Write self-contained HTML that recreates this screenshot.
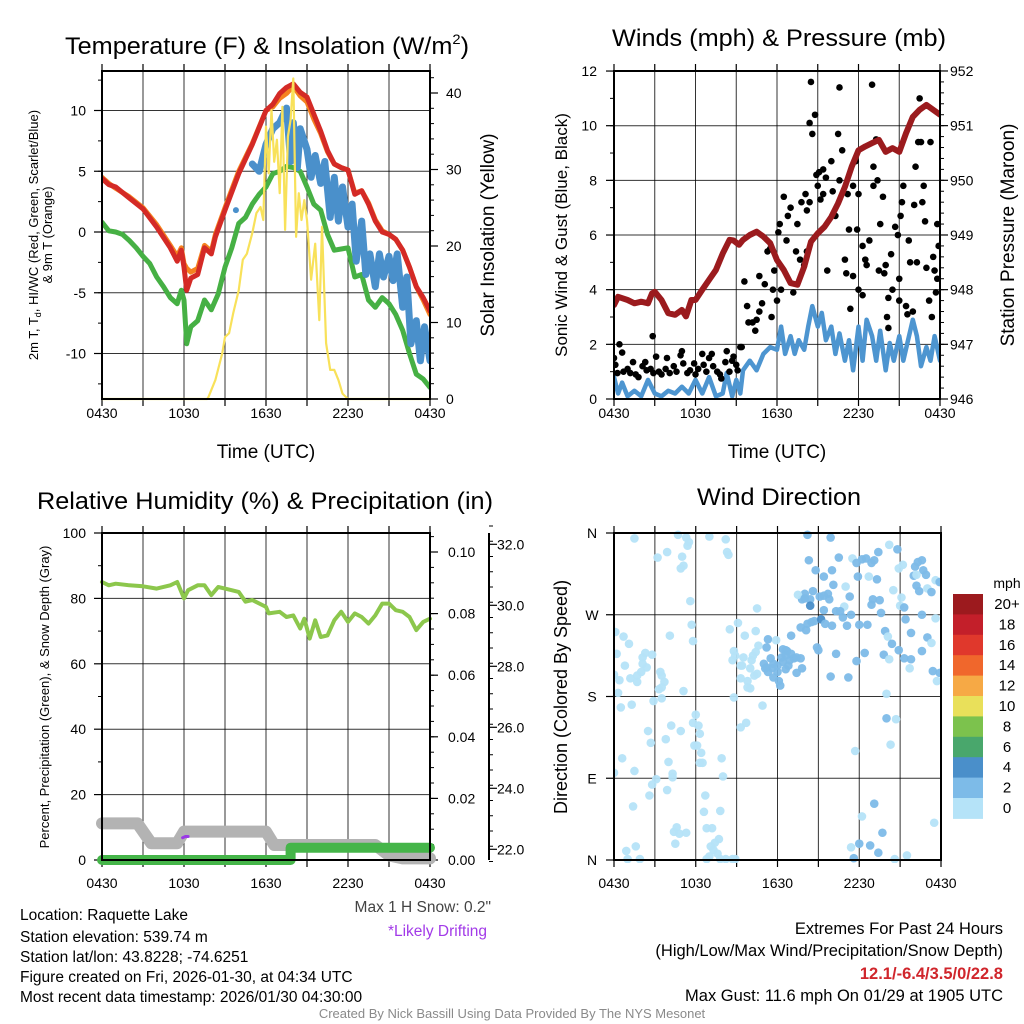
<!DOCTYPE html>
<html><head><meta charset="utf-8"><title>Raquette Lake Meteogram</title>
<style>
html,body{margin:0;padding:0;background:#fff;}
svg{display:block;font-family:"Liberation Sans",Arial,sans-serif;}
</style></head>
<body>
<svg id="chart" width="1024" height="1024" viewBox="0 0 1024 1024" xmlns="http://www.w3.org/2000/svg">
<rect x="0" y="0" width="1024" height="1024" fill="#fff"/>
<text x="267" y="54" font-size="24" text-anchor="middle" textLength="404" lengthAdjust="spacingAndGlyphs">Temperature (F) &amp; Insolation (W/m<tspan font-size="14" dy="-10">2</tspan><tspan dy="10">)</tspan></text>
<text x="779" y="46" font-size="24" text-anchor="middle" textLength="334" lengthAdjust="spacingAndGlyphs">Winds (mph) &amp; Pressure (mb)</text>
<text x="265" y="509" font-size="24" text-anchor="middle" textLength="456" lengthAdjust="spacingAndGlyphs">Relative Humidity (%) &amp; Precipitation (in)</text>
<text x="779" y="505" font-size="24" text-anchor="middle" textLength="164" lengthAdjust="spacingAndGlyphs">Wind Direction</text>

<text x="266" y="458" font-size="19" text-anchor="middle">Time (UTC)</text>
<text x="777" y="458" font-size="19" text-anchor="middle">Time (UTC)</text>

<text transform="translate(38,235) rotate(-90)" font-size="13" text-anchor="middle">2m T, T<tspan font-size="9" dy="3">d</tspan><tspan dy="-3">, HI/WC (Red, Green, Scarlet/Blue)</tspan></text>
<text transform="translate(52,235) rotate(-90)" font-size="13" text-anchor="middle">&amp; 9m T (Orange)</text>
<text transform="translate(494,235) rotate(-90)" font-size="19" text-anchor="middle">Solar Insolation (Yellow)</text>
<text transform="translate(567,235) rotate(-90)" font-size="17" text-anchor="middle">Sonic Wind &amp; Gust (Blue, Black)</text>
<text transform="translate(1014,235) rotate(-90)" font-size="19" text-anchor="middle">Station Pressure (Maroon)</text>
<text transform="translate(49,697) rotate(-90)" font-size="13" text-anchor="middle">Percent, Precipitation (Green), &amp; Snow Depth (Gray)</text>
<text transform="translate(567,697) rotate(-90)" font-size="18" text-anchor="middle">Direction (Colored By Speed)</text>

<g font-size="15.5">
<text x="20" y="920">Location: Raquette Lake</text>
<text x="20" y="942">Station elevation: 539.74 m</text>
<text x="20" y="962">Station lat/lon: 43.8228; -74.6251</text>
<text x="20" y="982">Figure created on Fri, 2026-01-30, at 04:34 UTC</text>
<text x="20" y="1002">Most recent data timestamp: 2026/01/30 04:30:00</text>
</g>
<text x="491" y="912" font-size="15.5" text-anchor="end" fill="#444">Max 1 H Snow: 0.2"</text>
<text x="487" y="936" font-size="15.5" text-anchor="end" fill="#a23ae8">*Likely Drifting</text>
<g font-size="16.5" text-anchor="end">
<text x="1003" y="934">Extremes For Past 24 Hours</text>
<text x="1003" y="956">(High/Low/Max Wind/Precipitation/Snow Depth)</text>
<text x="1003" y="979" fill="#d0262c" font-weight="bold">12.1/-6.4/3.5/0/22.8</text>
<text x="1003" y="1001">Max Gust: 11.6 mph On 01/29 at 1905 UTC</text>
</g>
<text x="512" y="1018" font-size="13" text-anchor="middle" fill="#8a8a8a">Created By Nick Bassill Using Data Provided By The NYS Mesonet</text>
</svg>
<script>
// ---------- Data ----------
const timeTickLabels = ['0430','1030','1630','2230','0430'];
// Temperature panel (hours since 0430 UTC)
const tempHours = [0,0.5,1,2,3,4,5,5.5,5.8,6,6.2,6.5,7,7.5,8,8.3,9,10,11,12,12.5,13,13.5,14,14.5,15,15.5,16,16.5,17,17.5,18,18.5,19,19.5,20,20.5,21,21.5,22,22.5,23,23.5,24];
const tempRed = [4.4,3.9,3.7,2.8,1.9,0.4,-1.3,-2.4,-1.5,-2.9,-4.8,-3.8,-3.5,-1.3,-1.8,-0.4,1.8,4.8,7.2,10,10.5,11.4,11.9,12.2,11.5,11.1,9.7,8.3,6.7,5.6,5.3,5.1,3.1,3.4,2.3,0.9,0,-0.2,-0.6,-1.5,-2.9,-4.5,-5.4,-6.5];
const temp9mOrange = [4.5,4.0,3.6,2.9,2.0,0.6,-1.1,-2.0,-1.3,-2.6,-3.0,-3.3,-3.0,-1.1,-1.6,-0.2,2.0,5.0,7.3,10,10.3,11.0,11.4,12.0,11.2,10.7,9.3,8.1,6.6,5.6,5.3,5.1,3.2,3.4,2.4,1.0,0.1,-0.2,-0.6,-1.5,-2.9,-4.5,-5.6,-6.8];
const dewHours = [0,0.5,1,1.5,2,2.5,3,3.5,4,4.5,5,5.5,5.8,6,6.2,6.5,7,7.5,8,8.5,9,9.5,10,10.5,11,11.5,12,12.5,13,13.5,14,14.5,15,15.5,16,16.5,17,17.5,18,18.5,19,19.5,20,20.5,21,21.5,22,22.5,23,23.5,24];
const dewGreen = [0.8,0.1,0,-0.2,-0.7,-1.3,-2,-2.6,-3.7,-4.5,-5.4,-5.9,-4.8,-5.6,-9.2,-7.8,-7.3,-5.6,-6.4,-5.1,-2.9,-1.3,0.7,1.2,2.3,3.1,3.7,4.8,5,5.4,5.3,5,3.7,2.3,1.8,-0.2,-1.5,-1.4,-1.3,-3.7,-3.5,-5.6,-6.2,-5.4,-5.9,-6.8,-8.1,-10,-11.7,-12.1,-12.8];
const wcHours = [11,11.5,12,12.5,13,13.5,13.8,14,14.3,14.5,15,15.3,15.6,16,16.3,16.7,17,17.3,17.6,18,18.3,18.6,19,19.3,19.6,20,20.3,20.6,21,21.3,21.6,22,22.3,22.6,23,23.3,23.6,24];
const wcBlue = [5.6,5,7.2,8.5,9,10.2,5.8,9,5.3,8.5,6.8,4.5,6.3,4,5.8,1.2,4.5,0.9,3.7,0.4,2.3,-2.4,0.9,-3.5,-1.8,-4.5,-1.8,-3.7,-2,-4,-1.8,-6.2,-3.7,-9.2,-7.3,-10.6,-7.8,-10.6];
const wcIsolated = [[9.8,1.8]];
const solarHours = [0,7.7,7.8,8.3,8.8,9,9.3,9.6,10,10.3,10.6,11,11.3,11.6,11.8,12,12.2,12.4,12.6,12.8,13,13.2,13.4,13.6,13.8,14,14.2,14.4,14.6,14.8,15,15.3,15.6,15.9,16.1,16.4,16.7,17,17.3,17.6,18,24];
const solarYellow = [0,0,0.3,2.5,6,8.1,8.6,11.2,14.2,18.2,19,21.7,24.3,25.1,23.4,35.6,29.5,37.8,31,33.9,26.9,38.2,22.1,34.3,36.5,41.9,21.2,26.9,23.4,26,23.4,15.6,20.3,10.3,22.5,7.3,3.8,3.8,2.5,0.7,0,0];
// Winds panel
const presHours = [0,0.3,1,1.5,2,2.5,2.8,3,3.5,4,4.5,5,5.3,5.7,6,6.5,7,7.5,8,8.5,8.8,9.2,9.5,10,10.5,11,11.5,12,12.5,13,13.5,14,14.5,15,15.5,16,16.5,17,17.5,18,18.5,19,19.5,20,20.5,21,21.5,22,22.5,23,23.5,24];
const pressure = [947.72,947.87,947.81,947.75,947.78,947.75,947.93,947.96,947.81,947.57,947.54,947.63,947.51,947.81,947.81,948.0,948.18,948.36,948.66,948.91,948.9,948.82,948.91,949.0,949.06,948.97,948.85,948.54,948.36,948.12,948.09,948.42,948.88,949.03,949.15,949.33,949.58,949.88,950.25,950.55,950.62,950.68,950.74,950.52,950.59,950.52,950.86,951.16,951.29,951.38,951.29,951.2];
const windHours = [0,0.3,0.6,1,1.5,2,2.5,3,3.5,4,4.5,5,5.5,6,6.5,7,7.5,8,8.3,8.7,9,9.3,9.5,10,10.5,11,11.5,12,12.3,12.6,13,13.3,13.6,14,14.3,14.6,15,15.3,15.6,16,16.3,16.6,17,17.3,17.6,18,18.3,18.6,19,19.3,19.6,20,20.3,20.6,21,21.3,21.6,22,22.3,22.6,23,23.3,23.6,24];
const sonicWind = [0.8,0.2,0.6,0.1,0.3,0.1,0.7,0.2,0.1,0.3,0.2,0.45,0.2,0.7,0.2,0.8,0.1,0.2,0.95,0.1,0.7,0.2,1.05,1.4,1.05,1.65,1.9,1.8,2.65,1.65,2.3,1.65,2.15,1.8,2.65,3.4,2.65,3.15,2.15,2.65,1.65,2.4,1.4,2.15,1.05,2.65,1.4,2.9,2.3,1.4,2.5,1.05,2.05,1.4,2.3,1.4,2.05,2.9,2.3,1.2,1.9,1.4,2.3,1.4];
const gusts = [[0,1.5],[0.1,1.25],[0.25,0.95],[0.4,2.0],[0.6,1.7],[0.7,1.0],[1.0,1.1],[1.2,0.95],[1.4,1.35],[1.6,0.9],[1.8,0.8],[2.1,1.2],[2.3,1.35],[2.4,1.05],[2.7,1.1],[2.85,2.3],[2.9,0.95],[3.1,1.55],[3.3,1.0],[3.5,0.9],[3.8,1.1],[3.9,1.5],[4.1,0.95],[4.4,1.2],[4.6,1.0],[4.9,1.6],[5.0,1.75],[5.1,1.3],[5.4,0.95],[5.6,1.05],[5.9,1.3],[6.0,0.9],[6.2,1.1],[6.5,1.65],[6.6,1.25],[6.8,1.0],[7.0,1.5],[7.2,1.65],[7.3,1.2],[7.6,1.0],[7.8,0.9],[7.9,0.75],[8.2,1.35],[8.3,1.75],[8.5,1.0],[8.7,1.4],[8.8,1.55],[9.0,1.25],[9.1,1.05],[9.3,1.9],
[9.4,1.9],[9.6,4.3],[9.8,3.4],[9.9,2.8],[10.2,2.8],[10.4,2.5],[10.5,2.9],[10.7,4.5],[10.9,3.5],[10.7,3.2],[11.1,4.2],[11.3,5.4],[11.5,5.5],[11.6,3.0],[11.7,4.0],[11.8,4.7],[12,3.6],[12.1,6.1],[12.2,6.4],[12.3,4.0],[12.5,7.4],[12.7,5.8],[12.8,6.7],[13.0,7.0],[13.2,3.9],[13.4,5.4],[13.5,6.4],[13.7,5.1],[13.8,7.2],[14.0,4.9],[14.1,7.5],[14.2,5.4],[14.2,6.9],[14.4,7.2],[14.4,10.1],[14.5,11.6],[14.6,9.7],[14.8,10.4],[14.9,8.2],[15.0,7.8],[15.1,8.3],[15.2,7.3],[15.4,7.5],[15.4,8.4],[15.6,8.1],[15.7,4.7],[16,8.7],[16.1,7.6],[16.3,6.7],[16.5,9.7],[16.6,11.4],[16.6,8.0],[16.8,9.1],[17.0,5.1],[17.1,4.6],[17.2,7.5],[17.3,6.2],[17.4,3.3],[17.6,4.5],[17.6,7.8],[17.8,8.7],[17.9,6.2],[18.0,7.5],[18.0,4.0],[18.3,3.8],[18.3,5.6],[18.5,5.1],[18.6,4.9],[18.8,5.8],[19,11.5],[19.1,7.8],[19.1,8.5],[19.3,9.5],[19.4,8.0],[19.5,4.7],[19.6,6.4],[19.8,7.4],[19.9,4.6],[20,4.9],[20.1,3.0],[20.2,2.6],[20.4,5.3],[20.2,3.7],[20.5,4.0],[20.7,6.3],[20.9,6.0],[21.0,4.4],[21.0,3.6],[21.1,6.7],[21.2,7.2],[21.3,7.8],[21.5,3.4],[21.6,3.1],[21.7,5.8],[21.8,5.0],[22,3.2],[22.1,7.1],[22.2,8.5],[22.3,5.0],[22.4,9.4],[22.5,11.0],[22.6,9.4],[22.7,7.2],[22.8,7.8],[22.9,6.5],[23.0,4.8],[23.2,3.6],[23.3,9.4],[23.4,3.0],[23.5,5.2],[23.6,4.7],[23.7,3.9],[23.8,4.4],[23.8,6.4],[23.9,5.6]];
// Humidity panel
const rhHours = [0,0.5,1,2,3,4,5,5.5,6,6.3,7,7.5,8,8.5,9,10,10.5,11,12,12.2,13,13.5,14,14.5,14.8,15.2,15.6,16,16.5,17,17.5,18,18.5,19,19.5,20,20.5,21,21.5,22,22.5,23,23.5,24];
const rhValues = [85,84,84.5,84,83.7,83,84,85,80,82.5,84,84,81,83.5,83,82,79,79.5,77.4,75.4,75.9,74.3,74.8,70.8,73.8,67.7,73.3,68.2,68.7,73.3,75.9,72.8,75.4,74.3,72.3,74.8,78.4,78.4,76.4,75.9,74.3,70.3,72.8,73.8];
const snowHours = [0,2.6,3.6,5.5,6,12,12.6,20,21,22,24];
const snowDepth = [22.85,22.85,22.2,22.2,22.58,22.58,22.14,22.14,21.8,21.7,21.7];
const precipHours = [0,13.8,13.8,24];
const precipValues = [0,0,0.004,0.004];
const driftHours = [5.9,6.1,6.3];
const driftDepth = [22.38,22.42,22.42];
// Wind direction panel: [hour, degrees, speed mph]
const windDirObs = [
[1.5,354,1],[3.2,333,1],[3.9,339,1],[4.7,358,1],[5.3,355,1],[5.5,350,1],[5.4,346,1],[5.0,334,1],[5.1,324,1],[4.9,321,1],[7.0,356,1],[8.2,353,1],[8.3,339,1],[8.4,336,1],[5.6,285,1],[10.5,277,1],
[0.1,251,1],[0.7,246,1],[1.1,238,1],[0.2,227,1],[2.3,228,1],[2.1,223,1],[2.8,226,1],[0.8,214,1],[2.1,216,1],[2.4,212,1],[2.0,207,1],[1.7,203,1],[0,204,1],[0.4,198,1],[1.2,200,1],[1.7,196,1],[3.4,207,1],[3.5,203,1],[3.7,196,1],[3.5,190,1],[3.3,188,1],[5.1,186,1],[0.3,184,1],[4.1,247,1],[5.7,259,1],[5.8,241,1],[2.9,175,1],[3.5,178,1],[0.5,168,1],[1.3,171,1],
[8.8,179,1],[8.5,254,1],[9.1,261,1],[9.6,247,1],[10.4,252,1],[10.6,236,1],[8.8,230,1],[8.7,220,1],[8.9,225,1],[9.3,214,1],[9.5,223,1],[10,211,1],[10.2,225,1],[10.1,220,1],[10.4,229,1],[9.3,200,1],[9.8,197,1],[10,189,1],[9.8,190,1],[10.9,170,1],[10.3,203,1],[10.5,205,1],
[6.0,160,1],[5.8,151,1],[6.2,148,1],[6.3,139,1],[4.9,142,1],[4.2,148,1],[2.5,142,1],[2.7,129,1],[3.8,133,1],[5.9,126,1],[6.1,126,1],[6.4,118,1],[6.3,107,1],[6.5,107,1],[4.0,108,1],[4.3,95,1],[4.3,91,1],[7.9,112,1],[8.0,92,1],[0.6,112,1],[1.5,98,1],[0,96,1],[3.1,89,1],[2.8,83,1],[2.6,71,1],[3.9,77,1],[6.7,71,1],[6.6,53,1],[7.8,54,1],[1.4,59,1],
[4.6,36,1],[4.4,31,1],[4.8,29,1],[5.3,30,1],[4.5,18,1],[6.8,35,1],[7.2,35,1],[7.7,23,1],[7.4,19,1],[7.1,15,1],[7.3,11,1],[7.6,7,1],[7.0,4,1],[6.8,1,1],[7.8,1,1],[8.2,1,1],[8.7,1,1],[8.9,1,1],[1.6,15,1],[0.9,10,1],[1.0,1,1],[1.9,1,1],[9.3,146,1],[9.7,151,1],[9.4,214,1],
[11.2,234,3],[11.3,243,3],[11.9,242,1],[11.0,216,3],[11.2,212,3],[11.5,222,3],[11.6,211,3],[11.7,216,3],[11.3,207,3],[11.1,211,3],[12.0,207,3],[11.7,201,3],[12.1,197,3],[12.2,192,3],[12.0,214,3],[12.3,223,3],[12.4,232,3],[12.6,231,3],[12.7,230,3],[12.6,225,3],[12.4,218,3],[12.6,210,3],[12.8,214,3],[12.9,220,3],[13.0,227,3],[13.2,222,3],[13.4,223,3],[13.7,222,3],[13.8,211,3],[13.4,206,3],
[13.0,247,3],[13.7,256,3],[14.1,253,3],[14.2,260,3],[14.5,262,3],[14.7,263,3],[14.9,234,3],[15.0,231,3],[15.2,265,5],[15.5,260,3],[16.0,258,3],[16.3,227,3],[15.9,202,3],[17.2,201,3],[17.8,219,3],[17.1,258,3],[18.0,259,3],[18.6,259,3],[18.4,228,3],[19.8,226,3],[20.2,221,1],[19.9,252,3],[20.1,246,1],[20.4,238,3],[20.9,231,3],[21.3,222,3],[21.8,221,3],[21.7,211,1],[21.8,250,3],[22.6,230,3],[23.0,245,3],[23.3,239,1],[23.4,208,3],[23.9,206,3],[23.7,197,1],[23.6,266,1],[21.4,265,3],[22.6,270,3],
[14.2,358,3],[15.9,355,3],[14.3,330,3],[14.8,319,3],[15.4,312,3],[16.0,319,3],[16.5,333,3],[16.1,303,3],[17.0,301,1],[17.5,332,1],[17.8,327,3],[17.9,312,3],[18.2,331,3],[18.5,332,3],[18.9,327,3],[19.1,330,3],[18.7,312,1],[19.3,309,3],[19.4,339,3],[20.2,347,1],[20.8,342,3],[20.9,321,1],[21.2,325,1],[22.1,323,3],[22.3,328,3],[22.6,330,3],[22.7,319,3],[22.9,314,3],[22.0,313,3],[22.2,314,1],[23.6,308,1],[23.9,306,3],[22.2,302,3],[22.4,296,3],[23.0,299,1],[23.3,295,3],
[20.5,297,1],[21.1,289,1],[21.0,280,1],[21.3,278,3],[19.0,287,3],[18.9,281,3],[19.5,286,3],[19.6,272,3],[17.3,290,3],[16.9,279,1],[16.3,274,3],[16.6,274,3],[16.8,267,3],[17.4,270,3],[15.4,275,3],[15.1,290,3],[15.4,291,3],[15.7,293,3],[15.8,287,3],[14.6,296,3],[14.0,293,3],[13.8,287,3],[14.4,287,3],[14.4,280,5],[13.5,292,1],[14.0,288,3],
[20.0,183,1],[20.0,156,3],[20.7,155,1],[20.3,127,1],[17.7,120,1],[19.1,62,3],[18.2,48,1],[19.7,30,3],[18.0,18,3],[17.4,14,1],[18.8,16,3],[19.4,8,3],[17.6,2,3],[20.6,1,1],[21.5,5,1],[23.5,41,1]];
const speedLevels = ['0','2','4','6','8','10','12','14','16','18','20+'];
const speedColors = ['#b5e3f8','#7dbbe8','#4a8fca','#49a76c','#7cc24d','#e9e05a','#f6a945','#f0672c','#e0382c','#c31f2a','#9c1a1e'];

// ---------- Rendering ----------
const svg = document.getElementById('chart');
const NS = 'http://www.w3.org/2000/svg';
function mk(tag, a, parent){ const e=document.createElementNS(NS,tag); for(const k in a) e.setAttribute(k,a[k]); (parent||svg).appendChild(e); return e; }
function txt(s,x,y,size,anchor,fill,parent){ const e=mk('text',{x:x,y:y,'font-size':size,'text-anchor':anchor||'middle',fill:fill||'#000'},parent); e.textContent=s; return e; }

const P1={x0:102,x1:430,yT:71,yB:399,lab:19};
const P2={x0:614,x1:940,yT:71,yB:399,lab:19};
const P3={x0:102,x1:430,yT:533,yB:860,lab:28};
const P4={x0:614,x1:941,yT:533,yB:860,lab:28};
function xs(p,h){ return p.x0 + h/24*(p.x1-p.x0); }
const y1L=v=>232 - v*12.15;
const y1R=v=>399 - v*7.65;
const y2L=v=>399 - v*27.33;
const y2R=v=>399 - (v-946)*54.67;
const y3L=v=>860 - v*3.27;
const y3P=v=>860 - v*3080;
const y3S=v=>849.3 - (v-22)*30.5;
const y4D=v=>860 - v*(327/360);

function timeGrid(p, g, name){
  for(let h=3; h<24; h+=3){
    const l=mk('line',{x1:xs(p,h),x2:xs(p,h),y1:p.yT,y2:p.yB,stroke:'#000','stroke-width':1,'stroke-opacity':0.8},g);
    
    
  }
  for(let h=0; h<=24; h+=3){
    const tb=mk('line',{x1:xs(p,h),x2:xs(p,h),y1:p.yB,y2:p.yB+7,stroke:'#000','stroke-width':1.2},g);
    
    
    const tt=mk('line',{x1:xs(p,h),x2:xs(p,h),y1:p.yT,y2:p.yT-7,stroke:'#000','stroke-width':1.2},g);
    
    
  }
  timeTickLabels.forEach((s,i)=>{
    const t=txt(s, xs(p,i*6), p.yB+p.lab, 14, 'middle', '#000', g);
    
    
  });
}
function hgrid(p, vals, f, g, name){
  vals.forEach(v=>{
    const l=mk('line',{x1:p.x0,x2:p.x1,y1:f(v),y2:f(v),stroke:'#000','stroke-width':1,'stroke-opacity':0.8},g);
    
    
  });
}
function yTicks(x, dir, majors, minors, f, labels, labelX, anchor, g, name, fs){
  minors.forEach(v=>{
    const l=mk('line',{x1:x,x2:x+dir*4,y1:f(v),y2:f(v),stroke:'#000','stroke-width':1},g);
    
    
  });
  majors.forEach((v,i)=>{
    const l=mk('line',{x1:x,x2:x+dir*8,y1:f(v),y2:f(v),stroke:'#000','stroke-width':1.2},g);
    
    
    const t=txt(labels[i], labelX, f(v)+5, fs||14, anchor, '#000', g);
    
    
  });
}
function range(a,b,s){ const r=[]; for(let v=a; v<=b+1e-9; v+=s) r.push(+v.toFixed(4)); return r; }
function frame(p,g,name){
  const r=mk('rect',{x:p.x0,y:p.yT,width:p.x1-p.x0,height:p.yB-p.yT,fill:'none',stroke:'#000','stroke-width':2},g);
  
  
}
function poly(p, hours, vals, f, color, w, g, name){
  const pts=hours.map((h,i)=>xs(p,h).toFixed(1)+','+f(vals[i]).toFixed(1)).join(' ');
  const l=mk('polyline',{points:pts,fill:'none',stroke:color,'stroke-width':w,'stroke-linejoin':'round','stroke-linecap':'round'},g);
  
  
  return l;
}
function clip(p,id){
  const d=mk('clipPath',{id:id});
  mk('rect',{x:p.x0,y:p.yT-3,width:p.x1-p.x0,height:p.yB-p.yT+6},d);
}

// ===== Panel 1: Temperature =====
const g1=mk('g',{});


clip(P1,'c1');
timeGrid(P1,g1,'temperature');
hgrid(P1,[10,5,0,-5,-10],y1L,g1,'temperature');
yTicks(P1.x0,-1,[-10,-5,0,5,10],range(-12.5,12.5,2.5),y1L,['-10','-5','0','5','10'],86,'end',g1,'temperature-left');
yTicks(P1.x1,1,[0,10,20,30,40],range(0,42,2),y1R,['0','10','20','30','40'],446,'start',g1,'insolation-right');
const s1=mk('g',{'clip-path':'url(#c1)'},g1);


poly(P1,tempHours,temp9mOrange,y1L,'#f58220',5,s1,'temp-9m-line');
poly(P1,tempHours,tempRed,y1L,'#d42a26',5,s1,'temp-2m-line');
poly(P1,dewHours,dewGreen,y1L,'#46b044',5,s1,'dewpoint-line');
poly(P1,wcHours,wcBlue,y1L,'#4a90cb',7,s1,'windchill-line');
wcIsolated.forEach(d=>{
  const c=mk('circle',{cx:xs(P1,d[0]),cy:y1L(d[1]),r:3,fill:'#4a90cb'},s1);
  
  
});
poly(P1,solarHours,solarYellow,y1R,'#f8e15a',2.2,s1,'insolation-line');
frame(P1,g1,'temperature');

// ===== Panel 2: Winds =====
const g2=mk('g',{});


clip(P2,'c2');
timeGrid(P2,g2,'winds');
hgrid(P2,[2,4,6,8,10],y2L,g2,'winds');
yTicks(P2.x0,-1,[0,2,4,6,8,10,12],range(0,12,1),y2L,['0','2','4','6','8','10','12'],597,'end',g2,'wind-left');
yTicks(P2.x1,1,[946,947,948,949,950,951,952],range(946,952,0.2),y2R,['946','947','948','949','950','951','952'],950,'start',g2,'pressure-right');
const s2=mk('g',{'clip-path':'url(#c2)'},g2);


poly(P2,windHours,sonicWind,y2L,'#4d95d0',4.5,s2,'sonic-wind-line');
gusts.forEach(d=>{
  const c=mk('circle',{cx:xs(P2,d[0]),cy:y2L(d[1]),r:3.3,fill:'#000'},s2);
  
  
});
poly(P2,presHours,pressure,y2R,'#9b1b1e',6,s2,'pressure-line');
frame(P2,g2,'winds');

// ===== Panel 3: Humidity =====
const g3=mk('g',{});


timeGrid(P3,g3,'humidity');
hgrid(P3,[20,40,60,80],y3L,g3,'humidity');
yTicks(P3.x0,-1,[0,20,40,60,80,100],range(10,90,20),y3L,['0','20','40','60','80','100'],86,'end',g3,'humidity-left');
yTicks(P3.x1,1,[0,0.02,0.04,0.06,0.08,0.1],range(0,0.105,0.005),y3P,['0.00','0.02','0.04','0.06','0.08','0.10'],448,'start',g3,'precip-right');
const sax=mk('line',{x1:489,x2:489,y1:P3.yT,y2:P3.yB,stroke:'#000','stroke-width':2},g3);


yTicks(489,1,[22,24,26,28,30,32],range(21.6,32.8,0.5),y3S,['22.0','24.0','26.0','28.0','30.0','32.0'],497,'start',g3,'snow-right');
poly(P3,rhHours,rhValues,y3L,'#8cc74c',4,g3,'humidity-line');
poly(P3,snowHours,snowDepth,y3S,'#b3b3b3',12,g3,'snow-depth-line');
poly(P3,precipHours,precipValues,y3P,'#45b549',10,g3,'precip-line');
poly(P3,driftHours,driftDepth,y3S,'#9b3ae6',3,g3,'drifting-snow-line');
frame(P3,g3,'humidity');

// ===== Panel 4: Wind direction =====
const g4=mk('g',{});


clip(P4,'c4');
timeGrid(P4,g4,'direction');
hgrid(P4,[90,180,270],y4D,g4,'direction');
yTicks(P4.x0,-1,[0,90,180,270,360],[],y4D,['N','E','S','W','N'],592,'middle',g4,'direction-left');
const s4=mk('g',{'clip-path':'url(#c4)'},g4);


windDirObs.forEach(d=>{
  const idx=Math.min(speedColors.length-1, Math.floor(d[2]/2));
  const c=mk('circle',{cx:xs(P4,d[0]),cy:y4D(d[1]),r:4.3,fill:speedColors[idx],'fill-opacity':0.95},s4);
  
  
});
frame(P4,g4,'direction');

// Colorbar
const cb=mk('g',{});


const cbTop=594, cbH=20.4;
const mt=txt('mph',1007,588,14,'middle','#000',cb);


speedLevels.forEach((lab,i)=>{
  const k=speedLevels.length-1-i;
  const r=mk('rect',{x:953,y:cbTop+i*cbH,width:30,height:cbH+0.5,fill:speedColors[k]},cb);
  
  
  const t=txt(speedLevels[k],1007,cbTop+i*cbH+15,15,'middle','#000',cb);
  
  
});
</script>
</body></html>
